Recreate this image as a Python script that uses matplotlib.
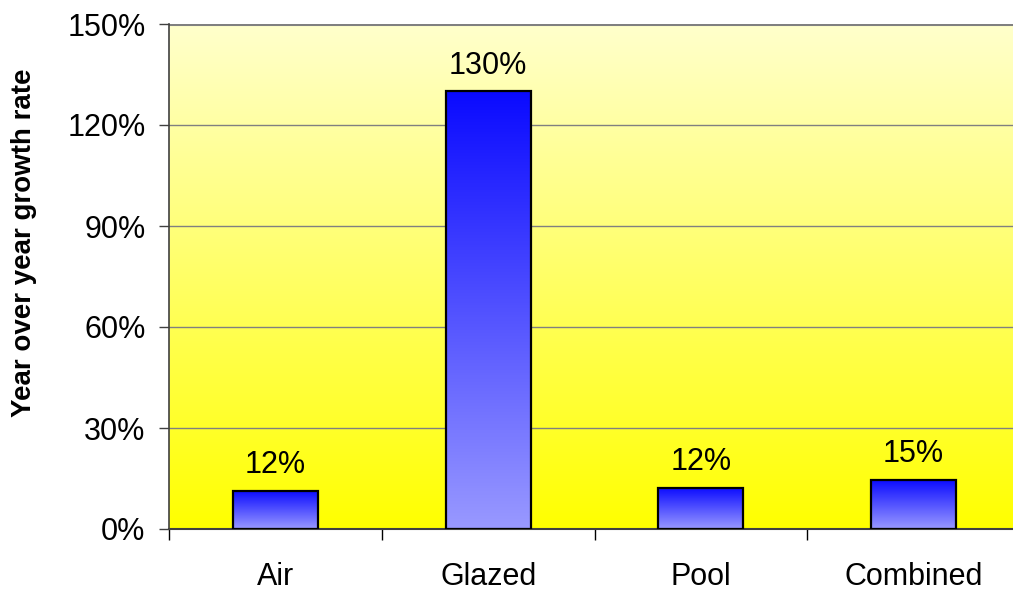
import numpy as np
import matplotlib
matplotlib.use('Agg')
import matplotlib.pyplot as plt
from matplotlib.colors import LinearSegmentedColormap
from matplotlib.ticker import FuncFormatter

plt.rcParams['font.family'] = ['Liberation Sans', 'DejaVu Sans']

categories = ['Air', 'Glazed', 'Pool', 'Combined']
growth = [11.3, 130.0, 12.3, 14.6]          # bar heights in %
bar_labels = ['12%', '130%', '12%', '15%']   # labels as printed

W, H = 1013, 593
fig = plt.figure(figsize=(W / 100, H / 100), dpi=100)
# plot area runs slightly past the right edge of the picture (cropped in the original)
ax = fig.add_axes([169 / W, 1 - 529 / H, 851 / W, (529 - 24) / H])

x = np.arange(len(categories))

# background gradient: pale yellow at top -> bright yellow at bottom
bg_cmap = LinearSegmentedColormap.from_list('bg', ['#FFFF00', '#FFFFCC'])
grad = np.linspace(0, 1, 256).reshape(-1, 1)
ax.imshow(grad, cmap=bg_cmap, origin='lower', aspect='auto',
          extent=[-0.5, 3.5, 0, 150], zorder=0)

# gridlines
for yv in range(30, 151, 30):
    ax.axhline(yv, color='#808080', lw=1.0 if yv < 150 else 2.2, zorder=1)

bar_cmap = LinearSegmentedColormap.from_list('bar', ['#9999FF', '#0A0AFF'])
bars = ax.bar(x, growth, width=0.40, facecolor='none', edgecolor='black',
              linewidth=1.6, zorder=3)
for b in bars:
    x0, w, h = b.get_x(), b.get_width(), b.get_height()
    im = ax.imshow(grad, cmap=bar_cmap, origin='lower', aspect='auto',
                   extent=[x0, x0 + w, 0, h], zorder=2)
    im.set_clip_path(b)

for xi, v, lab in zip(x, growth, bar_labels):
    ax.text(xi, v + 3.2, lab, ha='center', va='bottom', fontsize=22)

ax.set_xlim(-0.5, 3.5)
ax.set_ylim(0, 150)

ax.set_yticks(range(0, 151, 30))
ax.yaxis.set_major_formatter(FuncFormatter(lambda v, p: f'{int(v)}%'))
ax.set_xticks(x)
ax.set_xticklabels(categories)
ax.set_xticks(np.arange(-0.5, 3.6, 1.0), minor=True)
ax.tick_params(axis='x', which='major', length=0, pad=24, labelsize=22)
ax.tick_params(axis='x', which='minor', length=8, width=1, color='black',
               direction='out')
ax.tick_params(axis='y', length=7, width=1, color='#404040', direction='out',
               labelsize=22, pad=10)

for s in ['top', 'right']:
    ax.spines[s].set_visible(False)
ax.spines['left'].set_color('#404040')
ax.spines['left'].set_linewidth(1.2)
ax.spines['bottom'].set_color('#404040')
ax.spines['bottom'].set_linewidth(1.5)

ax.set_ylabel('Year over year growth rate', fontsize=20, fontweight='bold')
ax.yaxis.set_label_coords((37 - 169) / 851, (529 - 243) / 505)

fig.savefig('out.png', dpi=100)
